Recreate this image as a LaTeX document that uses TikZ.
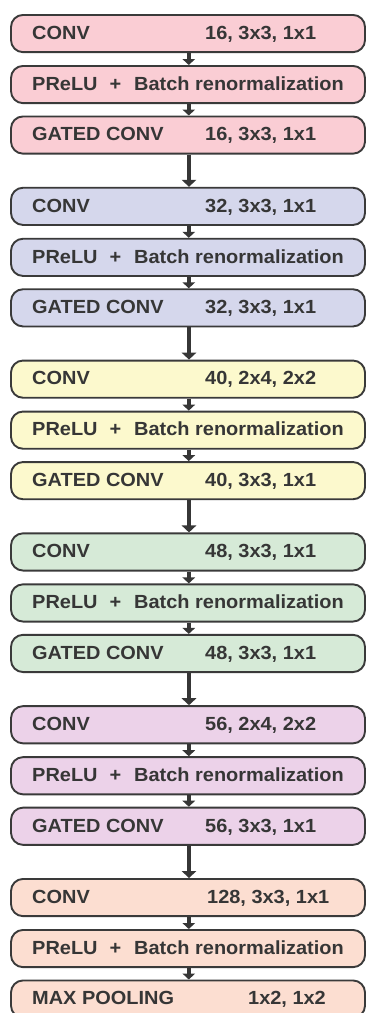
\documentclass[tikz,border=0pt]{standalone}
\usepackage{fontspec}
\setmainfont{Liberation Sans}[FakeStretch=1.05]
\usetikzlibrary{arrows.meta}
\definecolor{edge}{HTML}{3A3A3A}
\definecolor{txt}{HTML}{363636}
\definecolor{c1}{HTML}{FACDD4}
\definecolor{c2}{HTML}{D5D7EC}
\definecolor{c3}{HTML}{FCF9CD}
\definecolor{c4}{HTML}{D6EAD7}
\definecolor{c5}{HTML}{ECD2E9}
\definecolor{c6}{HTML}{FCDED1}
\begin{document}
\begin{tikzpicture}[x=1pt,y=-1pt,
  blk/.style={draw=edge, line width=1.9pt, rounded corners=12pt, minimum width=354pt, minimum height=37.2pt, anchor=north, inner sep=0pt},
  lbl/.style={anchor=base west, text=txt, font=\fontsize{19}{22}\selectfont\bfseries, inner sep=0pt},
  sarr/.style={draw=txt, line width=3.6pt, -{Triangle[width=12.5pt,length=6pt]}},
  barr/.style={draw=txt, line width=4.6pt, -{Triangle[width=14.5pt,length=7pt]}}]
\useasboundingbox (0,0) rectangle (367,1013);
\clip (0,0) rectangle (367,1013);
\foreach \i/\col/\pa/\pb in {1/c1/{16, 3x3, 1x1}/{16, 3x3, 1x1},2/c2/{32, 3x3, 1x1}/{32, 3x3, 1x1},3/c3/{40, 2x4, 2x2}/{40, 3x3, 1x1},4/c4/{48, 3x3, 1x1}/{48, 3x3, 1x1},5/c5/{56, 2x4, 2x2}/{56, 3x3, 1x1}}{
  \pgfmathsetmacro{\t}{14+172.8*(\i-1)}
  \node[blk, fill=\col] (g\i a) at (188,\t) {};
  \node[blk, fill=\col] (g\i b) at (188,\t+51) {};
  \node[blk, fill=\col] (g\i c) at (188,\t+101.5) {};
  \node[lbl] (g\i at) at (32,\t+25.3) {CONV};
  \node[lbl] (g\i ap) at (205,\t+25.3) {\pa};
  \node[lbl] (g\i bt) at (32,\t+76.3) {PReLU\hspace{12pt}+\hspace{13pt}Batch renormalization};
  \node[lbl] (g\i ct) at (32,\t+126.8) {GATED CONV};
  \node[lbl] (g\i cp) at (205,\t+126.8) {\pb};
  \draw[sarr] ([xshift=0.8pt]g\i a.south) -- ([xshift=0.8pt]g\i b.north);
  \draw[sarr] ([xshift=0.8pt]g\i b.south) -- ([xshift=0.8pt]g\i c.north);
}
\node[blk, fill=c6] (g6a) at (188,878) {};
\node[blk, fill=c6] (g6b) at (188,929) {};
\node[blk, fill=c6] (g6c) at (188,979.5) {};
\node[lbl] (g6at) at (32,903.3) {CONV};
\node[lbl] (g6ap) at (207,903.3) {128, 3x3, 1x1};
\node[lbl] (g6bt) at (32,954.3) {PReLU\hspace{12pt}+\hspace{13pt}Batch renormalization};
\node[lbl] (g6ct) at (32,1004.8) {MAX POOLING};
\node[lbl] (g6cp) at (248,1004.8) {1x2, 1x2};
\draw[sarr] ([xshift=0.8pt]g6a.south) -- ([xshift=0.8pt]g6b.north);
\draw[sarr] ([xshift=0.8pt]g6b.south) -- ([xshift=0.8pt]g6c.north);
\foreach \i [evaluate=\i as \j using int(\i+1)] in {1,...,5}{
  \draw[barr] ([xshift=1pt]g\i c.south) -- ([xshift=1pt]g\j a.north);
}
\end{tikzpicture}
\end{document}
